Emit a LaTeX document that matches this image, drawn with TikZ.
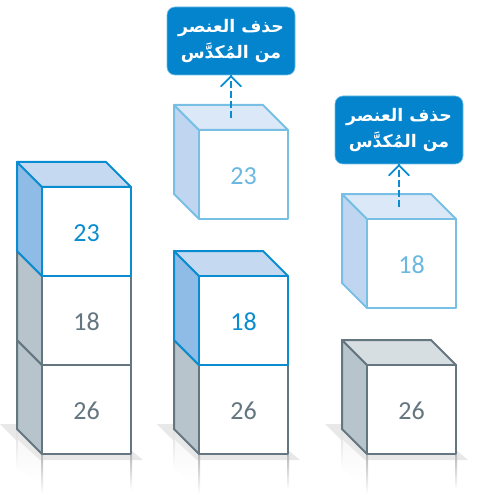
\documentclass[tikz,border=0pt]{standalone}
\usepackage{fontspec}
\setmainfont{Carlito}
\newfontfamily\arabicfont[Script=Arabic]{DejaVu Sans}
\TeXXeTstate=1
\usetikzlibrary{arrows.meta,calc}
\definecolor{bline}{HTML}{0A8DD0}
\definecolor{btop}{HTML}{C5D9F1}
\definecolor{bside}{HTML}{8FBCE6}
\definecolor{gline}{HTML}{64767F}
\definecolor{gtop}{HTML}{D7DEE2}
\definecolor{gside}{HTML}{B7C4CB}
\definecolor{pline}{HTML}{78BFE6}
\definecolor{ptop}{HTML}{DBE8F7}
\definecolor{pside}{HTML}{C0D6F0}
\definecolor{ptext}{HTML}{6AB8E2}
\definecolor{boxfill}{HTML}{0484CC}
\definecolor{boxedge}{HTML}{6CBEE8}
\definecolor{floorc}{HTML}{E8E8E8}
\tikzset{
  front/.style={draw,fill=white,line width=1.5pt,minimum width=66.75pt,minimum height=66.75pt,
    inner sep=0pt,font=\fontsize{19.5pt}{20pt}\selectfont,line join=round,
    text height=15.3pt,text depth=0pt},
  blueface/.style={draw=bline,text=bline},
  greyface/.style={draw=gline,text=gline},
  paleface/.style={draw=pline,text=ptext},
  facepath/.style={line width=1.5pt,line join=round},
  label box/.style={rounded corners=6pt,fill=boxfill,draw=boxedge,line width=.5pt,text=white,
    minimum width=96pt,minimum height=51pt,inner sep=0pt,align=center,
    font=\arabicfont\bfseries\fontsize{13pt}{20pt}\selectfont},
  lift/.style={draw=bline,line width=1.3pt,dashed,dash pattern=on 5pt off 2.6pt},
  lift tip/.style={draw=bline,line width=1.3pt,line cap=round,line join=round},
  floor/.style={fill=floorc,draw=none},
  refl/.style={draw=none,top color=gray!55,bottom color=white}
}
% #1 node name, #2 centre, #3 line colour, #4 top colour, #5 side colour, #6 face style, #7 text
\newcommand{\boxcube}[7]{%
  \draw[facepath,draw=#3,fill=#5] ($(#2)+(-44.5,-44.5)$) -- ++(-25,-25) -- ++(0,89) -- ++(25,25) -- cycle;
  \draw[facepath,draw=#3,fill=#4] ($(#2)+(-44.5,-44.5)$) -- ++(-25,-25) -- ++(89,0) -- ++(25,25) -- cycle;
  \node[front,#6] (#1) at (#2) {#7};
}
% #1 left x of the front face
\newcommand{\flooring}[1]{%
  \fill[floor] (#1-42,424) -- (#1+58,424) -- (#1+101,460) -- (#1-6,460) -- cycle;
  \shade[refl,top color=gray!25] (#1-26,430) rectangle (#1-24,470);
  \shade[draw=none,top color=white!70!floorc,bottom color=white] (#1-24,440) -- (#1,462) -- (#1,485) -- (#1-24,470) -- cycle;
  \shade[refl] (#1-1,455) rectangle (#1+1,494);
  \shade[refl] (#1+88,455) rectangle (#1+90,490);
}
\begin{document}
\begin{tikzpicture}[x=0.75pt,y=-0.75pt]
\useasboundingbox (0,0) rectangle (481,495);
\flooring{42}
\flooring{199}
\flooring{367}
% stack 1
\boxcube{aa}{86.5,409.5}{gline}{gtop}{gside}{greyface}{26}
\boxcube{ab}{86.5,320.5}{gline}{gtop}{gside}{greyface}{18}
\boxcube{ac}{86.5,231.5}{bline}{btop}{bside}{blueface}{23}
% stack 2
\boxcube{ba}{243.5,409.5}{gline}{gtop}{gside}{greyface}{26}
\boxcube{bb}{243.5,320.5}{bline}{btop}{bside}{blueface}{18}
\boxcube{bc}{243.5,174.5}{pline}{ptop}{pside}{paleface}{23}
% stack 3
\boxcube{ca}{411.5,409.5}{gline}{gtop}{gside}{greyface}{26}
\boxcube{cb}{411.5,263.5}{pline}{ptop}{pside}{paleface}{18}
% labels
\node[label box] (l1) at (231,41) {\beginR حذف العنصر\endR\\\beginR من المُكدَّس\endR};
\node[label box] (l2) at (399,130) {\beginR حذف العنصر\endR\\\beginR من المُكدَّس\endR};
% lifts
\coordinate (f1) at (231,118);
\coordinate (f2) at (399,207);
\coordinate (t1) at (l1.south);
\coordinate (t2) at (l2.south);
\draw[lift] (f1) -- (t1);
\draw[lift] (f2) -- (t2);
\draw[lift tip] ($(t1)+(-10,11)$) -- ($(t1)+(0,1)$) -- ($(t1)+(10,11)$);
\draw[lift tip] ($(t2)+(-10,11)$) -- ($(t2)+(0,1)$) -- ($(t2)+(10,11)$);
\end{tikzpicture}
\end{document}
